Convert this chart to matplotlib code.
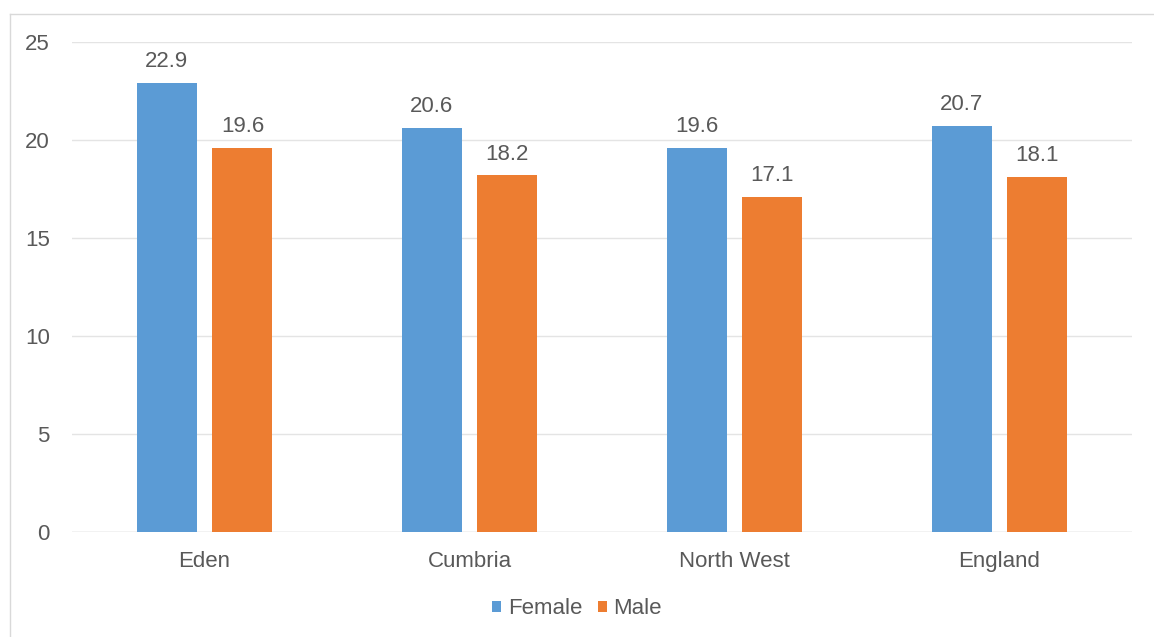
import matplotlib
matplotlib.use("Agg")
import matplotlib.pyplot as plt
import numpy as np
from matplotlib.lines import Line2D

plt.rcParams['font.family'] = ['Liberation Sans', 'DejaVu Sans']

categories = ["Eden", "Cumbria", "North West", "England"]
female = [22.9, 20.6, 19.6, 20.7]
male = [19.6, 18.2, 17.1, 18.1]
y_ticks = [0, 5, 10, 15, 20, 25]

blue = "#5B9BD5"
orange = "#ED7D31"
text_grey = "#595959"
fs = 16

W, H = 1154, 637
fig = plt.figure(figsize=(W / 100, H / 100), dpi=100)
ax = fig.add_axes([72 / W, 1 - 532 / H, (1132 - 72) / W, (532 - 42) / H])

x = np.arange(len(categories))
width = 0.226
offset = 0.143
b1 = ax.bar(x - offset, female, width, color=blue, label="Female", zorder=3)
b2 = ax.bar(x + offset, male, width, color=orange, label="Male", zorder=3)

for bars, vals in ((b1, female), (b2, male)):
    for bar, v in zip(bars, vals):
        ax.text(bar.get_x() + bar.get_width() / 2, v + 0.55, f"{v:.1f}",
                ha="center", va="bottom", fontsize=fs, color=text_grey)

ax.set_xlim(-0.5, len(categories) - 0.5)
ax.set_ylim(0, 25)
ax.set_yticks(y_ticks)
ax.set_yticklabels([str(t) for t in y_ticks])
ax.set_xticks(x)
ax.set_xticklabels(categories)
ax.grid(axis="y", color="#E4E4E4", linewidth=1, zorder=0)
for s in ax.spines.values():
    s.set_visible(False)
ax.axhline(0, color="#D9D9D9", linewidth=1, zorder=2)
ax.tick_params(axis="both", length=0, labelsize=fs, labelcolor=text_grey)
ax.tick_params(axis="y", pad=16)
ax.tick_params(axis="x", pad=14)

fig.legend(handles=[b1, b2], labels=["Female", "Male"], loc="center",
           bbox_to_anchor=(0.5, 1 - 609 / H), ncol=2, frameon=False,
           fontsize=fs, handlelength=0.4, handleheight=0.4, handletextpad=0.3,
           columnspacing=0.7, labelcolor=text_grey)

# outer chart frame (top and left edges)
fig.add_artist(Line2D([10 / W, 10 / W], [0, 1 - 14 / H], transform=fig.transFigure,
                      color="#D9D9D9", linewidth=1))
fig.add_artist(Line2D([10 / W, 1], [1 - 14 / H, 1 - 14 / H], transform=fig.transFigure,
                      color="#D9D9D9", linewidth=1))

fig.savefig("out.png", dpi=100)
